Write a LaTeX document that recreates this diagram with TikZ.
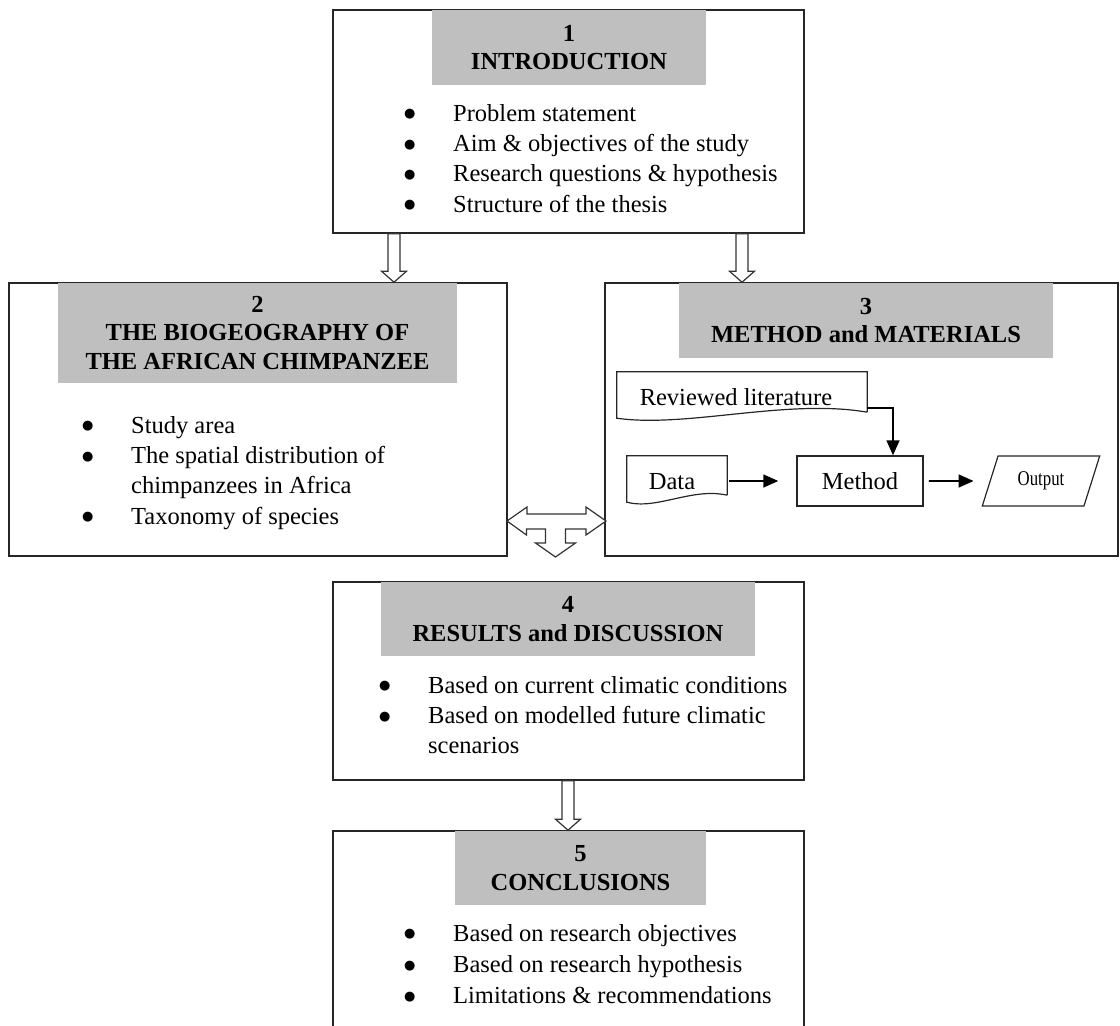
\documentclass[tikz,border=0pt]{standalone}
\usepackage{fontspec}
\setmainfont{Liberation Serif}
\newfontfamily\symfont{DejaVu Sans}
\usetikzlibrary{arrows.meta}
\usetikzlibrary{shapes.geometric}
\usetikzlibrary{calc}

\newcommand{\bul}{\makebox[49pt][l]{\raisebox{3.5pt}{\symfont\fontsize{13}{13}\selectfont ●}}}
\newcommand{\txtsize}{\fontsize{24.5}{30.3}\selectfont}
\newcommand{\hollowdown}[2]{%
  \draw[hollow] ($(#1)+(-6,0)$) -- ($(#2)+(-6,-11)$) -- ($(#2)+(-12.5,-11)$) -- (#2)
     -- ($(#2)+(12.5,-11)$) -- ($(#2)+(6,-11)$) -- ($(#1)+(6,0)$) -- cycle;}

\tikzset{hollow/.style={draw=black!80,line width=1.2,fill=white}}

\begin{document}
\begin{tikzpicture}[x=1pt,y=-1pt]
\useasboundingbox (0,0) rectangle (1120,1026);
\clip (0,0) rectangle (1120,1026);

\begin{scope}[every node/.style={draw=black!85,line width=1.6,inner sep=0}]
    \node [minimum width=471,minimum height=223] (C1) at (568.5,121.5) {};
    \node [minimum width=498,minimum height=273] (C2) at (258,419.5) {};
    \node [minimum width=513,minimum height=273] (C3) at (861.5,419.5) {};
    \node [minimum width=471,minimum height=198] (C4) at (568.5,681) {};
    \node [minimum width=471,minimum height=209] (C5) at (568.5,935.5) {};
\end{scope}

\begin{scope}[every node/.style={fill=black!25,font=\txtsize\bfseries,align=center,inner sep=0}]
    \node [minimum width=274,minimum height=75] (H1) at (569,47.5) {1\\[-2pt]INTRODUCTION};
    \node [minimum width=399,minimum height=100] (H2) at (257.5,333) {2\\[-2pt]THE BIOGEOGRAPHY OF\\[-2pt]THE AFRICAN CHIMPANZEE};
    \node [minimum width=374,minimum height=75] (H3) at (866,320.5) {3\\[-2pt]METHOD and MATERIALS};
    \node [minimum width=374,minimum height=74] (H4) at (568,619) {4\\[-2pt]RESULTS and DISCUSSION};
    \node [minimum width=251,minimum height=74] (H5) at (580.5,868) {5\\[-2pt]CONCLUSIONS};
\end{scope}

\begin{scope}[every node/.style={font=\txtsize,align=left,inner sep=0,anchor=north west}]
    \node (L1) at (404,104) {\bul Problem statement\\ \bul Aim \& objectives of the study\\
        \bul Research questions \& hypothesis\\ \bul Structure of the thesis};
    \node (L2) at (82,416) {\bul Study area\\ \bul The spatial distribution of\\
        \hspace*{49pt}chimpanzees in Africa\\ \bul Taxonomy of species};
    \node (L4) at (379,676) {\bul Based on current climatic conditions\\
        \bul Based on modelled future climatic\\ \hspace*{49pt}scenarios};
    \node (L5) at (404,924) {\bul Based on research objectives\\[1pt]
        \bul Based on research hypothesis\\[1pt] \bul Limitations \& recommendations};
\end{scope}

% flow inside chapter 3
\begin{scope}[every node/.style={font=\txtsize,inner sep=0}]
    \node [minimum width=250,minimum height=40,text height=27pt] (lit) at (742,392) {\hspace*{-12pt}Reviewed literature};
    \node [minimum width=100,minimum height=39,text height=29pt] (data) at (677,475.5) {\hspace*{-10pt}Data};
    \node [draw=black!85,line width=1.5,minimum width=126,minimum height=50] (mthd) at (860,481) {Method};
    \node [trapezium,trapezium left angle=65,trapezium right angle=115,trapezium stretches=true,
           draw=black!85,line width=1.2,minimum width=118,minimum height=50]
           (out) at (1041,481) {\scalebox{0.8}[1]{\fontsize{21}{21}\selectfont Output}};
\end{scope}

\draw [line width=1.2,draw=black!85] (lit.south east) -- (lit.north east) -- (lit.north west)
    -- ([yshift=-6pt]lit.south west) .. controls +(70,10) and +(-80,-14) .. (lit.south east);
\draw [line width=1.2,draw=black!85] (data.south east) -- (data.north east) -- (data.north west)
    -- ([yshift=-7pt]data.south west) .. controls +(30,8) and +(-35,-8) .. (data.south east);

\begin{scope}[>={Triangle[length=15pt,width=13pt]}]
     \draw [->,line width=1.6] ([yshift=-16pt]lit.east) -| ([xshift=33pt]mthd.north);
     \draw [->,line width=1.6,shorten <=2pt,shorten >=18pt] (data.east |- mthd.west) -- (mthd.west);
     \draw [->,line width=1.6,shorten <=5pt,shorten >=16pt] (mthd.east) -- (out.west);
\end{scope}

% hollow arrows between chapters
\hollowdown{394,0 |- C1.south}{394,0 |- C2.north}
\hollowdown{742,0 |- C1.south}{742,0 |- C3.north}
\hollowdown{568,0 |- C4.south}{568,0 |- C5.north}

\coordinate (tee) at (556.5,521);
\draw [hollow] (tee) ++(-49.5,0) -- ++(20,-14) -- ++(0,7) -- ++(59,0) -- ++(0,-7) -- ++(20,14)
    -- ++(-20,14) -- ++(0,-6) -- ++(-20.5,0) -- ++(0,14) -- ++(10,0) -- ++(-20,14)
    -- ++(-20,-14) -- ++(10,0) -- ++(0,-14) -- ++(-19,0) -- ++(0,6) -- cycle;

\end{tikzpicture}
\end{document}
